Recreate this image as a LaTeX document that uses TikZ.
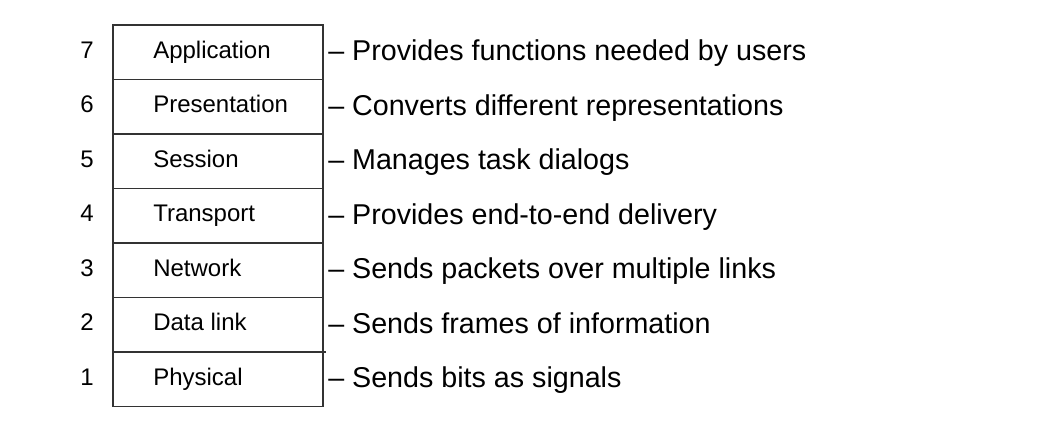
\documentclass[tikz,border=0pt]{standalone}
\usepackage{fontspec}
\setmainfont{Liberation Sans}
\begin{document}
\begin{tikzpicture}[x=0.75pt,y=-0.75pt,
  layerbox/.style={draw=black!80, line width=1.1pt, minimum width=157.5pt, minimum height=40.875pt, inner sep=0pt, outer sep=0pt},
  lname/.style={anchor=base west, font=\fontsize{18}{20}\selectfont, inner sep=0pt},
  lnum/.style={anchor=base, font=\fontsize{18}{20}\selectfont, inner sep=0pt},
  ldesc/.style={anchor=base west, font=\fontsize{21.5}{24}\selectfont, inner sep=0pt}]
\useasboundingbox (0,0) rectangle (1050,434);
\foreach \k/\name/\desc [count=\i from 0] in {
  7/Application/Provides functions needed by users,
  6/Presentation/Converts different representations,
  5/Session/Manages task dialogs,
  4/Transport/Provides end-to-end delivery,
  3/Network/Sends packets over multiple links,
  2/Data link/Sends frames of information,
  1/Physical/Sends bits as signals}{
  \pgfmathsetmacro{\cy}{52.25+54.5*\i}
  \node[layerbox] (L\k) at (218,\cy) {};
  \node[lname] (N\k) at (153,\cy+6) {\name};
  \node[lnum] (n\k) at (87,\cy+6) {\k};
  \node[ldesc] (d\k) at (328,\cy+8.5) {– \desc};
}
\draw[black!80, line width=1.1pt] (L1.north east) -- ++(3,0);
\end{tikzpicture}
\end{document}
